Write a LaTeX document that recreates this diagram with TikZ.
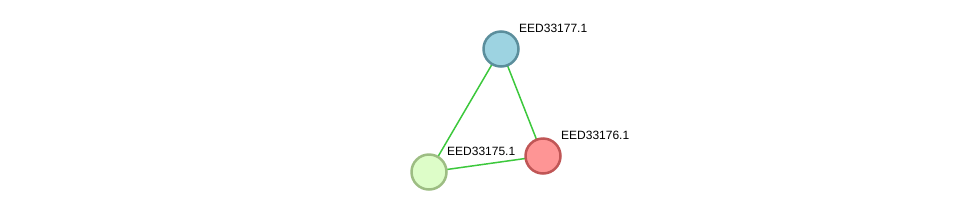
\documentclass[tikz,border=0pt]{standalone}
\usepackage{fontspec}
\setmainfont{Liberation Sans}
\definecolor{edgegreen}{HTML}{3CC83C}
\definecolor{bluefill}{HTML}{9DD3E1}
\definecolor{blueline}{HTML}{5B8E9C}
\definecolor{redfill}{HTML}{FE9595}
\definecolor{redline}{HTML}{C05656}
\definecolor{greenfill}{HTML}{DDFDC8}
\definecolor{greenline}{HTML}{9DBD83}
\tikzset{protein/.style={circle, minimum size=35pt, inner sep=0pt, line width=2.5pt},
         plabel/.style={anchor=west, font=\fontsize{12}{12}\selectfont, inner sep=0pt},
         link/.style={edgegreen, line width=1.5pt}}
\begin{document}
\begin{tikzpicture}[x=1pt, y=-1pt]
    \useasboundingbox (0,0) rectangle (976,218);
    \draw[link] (501,49) coordinate (c177) -- (543,156) coordinate (c176);
    \draw[link] (c177) -- (429,172) coordinate (c175);
    \draw[link] (c175) -- (c176);
    \node[protein, draw=blueline, fill=bluefill] (e177) at (c177) {};
    \node[protein, draw=redline, fill=redfill] (e176) at (c176) {};
    \node[protein, draw=greenline, fill=greenfill] (e175) at (c175) {};
    \node[plabel] (l177) at (519,28) {EED33177.1};
    \node[plabel] (l176) at (561,135) {EED33176.1};
    \node[plabel] (l175) at (447,151) {EED33175.1};
\end{tikzpicture}
\end{document}
